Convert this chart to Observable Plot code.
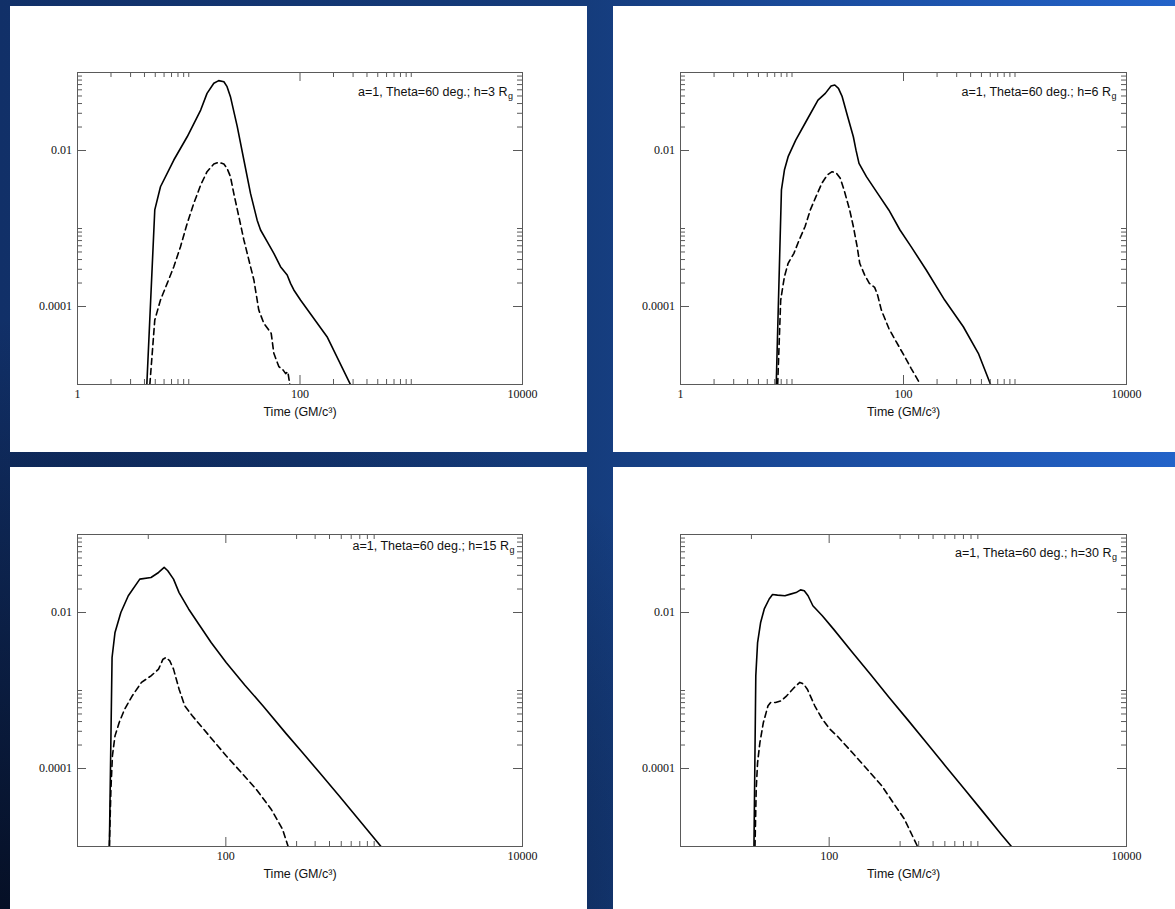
<!DOCTYPE html>
<html>
<head>
<meta charset="utf-8">
<script src="https://cdn.jsdelivr.net/npm/d3@7"></script>
<script src="https://cdn.jsdelivr.net/npm/@observablehq/plot@0.6"></script>
<style>
html, body { margin: 0; padding: 0; }
body {
  width: 1175px; height: 909px; overflow: hidden; position: relative;
  background:
    radial-gradient(ellipse 70% 65% at 0% 100%, rgba(4,10,26,0.85) 0%, rgba(4,10,26,0) 100%),
    linear-gradient(to right, #113068 0%, #153c7c 50%, #1c50a6 75%, #2363c9 100%);
}
.panel { position: absolute; background: #ffffff; }
.panel svg { display: block; overflow: visible; }
</style>
</head>
<body>
<div id="p1" class="panel" style="left:10px;top:6px;width:577px;height:446px"></div>
<div id="p2" class="panel" style="left:613px;top:6px;width:562px;height:446px"></div>
<div id="p3" class="panel" style="left:10px;top:467px;width:577px;height:442px"></div>
<div id="p4" class="panel" style="left:613px;top:467px;width:562px;height:442px"></div>
<script>
// ---------- data (time in GM/c^3, flux) ----------
// h = 3 Rg
const h3SolidT = [4.2, 4.95, 5.57, 7.34, 9.68, 12.8, 14.6, 16.8, 18.6, 20.7, 22.1, 23.7, 27.3, 31.3, 35.9, 41.2, 44.2, 50.7, 58.2, 66.8, 76.7, 82.2, 88, 101, 175, 284];
const h3SolidF = [1e-5, 1.73e-3, 3.43e-3, 7.55e-3, 0.015, 0.033, 0.054, 0.0727, 0.0786, 0.0762, 0.0658, 0.049, 0.0202, 0.00755, 2.82e-3, 1.28e-3, 9.57e-4, 6.78e-4, 4.8e-4, 3.24e-4, 2.54e-4, 1.98e-4, 1.63e-4, 1.21e-4, 4.1e-5, 1e-5];
const h3DashT = [4.47, 4.95, 5.57, 6.4, 7.34, 8.43, 9.68, 11.1, 12.8, 14.6, 16.8, 18.6, 20.7, 22.1, 23.7, 25.4, 28.2, 31.3, 34.7, 38.5, 42.6, 47.3, 55.1, 58.2, 64.5, 70.6, 74.3, 77.7, 81];
const h3DashF = [1e-5, 6.7e-5, 1.21e-4, 1.98e-4, 3.24e-4, 5.85e-4, 1.16e-3, 2.1e-3, 3.61e-3, 5.35e-3, 6.7e-3, 7.06e-3, 6.7e-3, 5.91e-3, 4.62e-3, 2.82e-3, 1.42e-3, 7.13e-4, 3.95e-4, 2.19e-4, 9.0e-5, 6.1e-5, 4.53e-5, 2.51e-5, 1.7e-5, 1.53e-5, 1.38e-5, 1.46e-5, 1e-5];
// h = 6 Rg
const h6SolidT = [7.22, 8.04, 8.55, 9.23, 10.8, 13.6, 17.1, 19.9, 22.4, 24.2, 26.1, 28.2, 31.6, 35.5, 37.5, 39.9, 46.5, 58.6, 73.8, 93, 117, 160, 234, 344, 469, 604];
const h6SolidF = [1e-5, 3.12e-3, 5.62e-3, 8.33e-3, 0.0136, 0.0246, 0.0443, 0.054, 0.0671, 0.0691, 0.0627, 0.049, 0.0271, 0.015, 0.0101, 6.85e-3, 4.62e-3, 2.82e-3, 1.73e-3, 9.57e-4, 5.85e-4, 2.94e-4, 1.21e-4, 5.5e-5, 2.51e-5, 1e-5];
const h6DashT = [7.44, 7.92, 8.55, 9.23, 10.4, 11.6, 13.1, 14.6, 16.4, 18.5, 20.7, 22.9, 25.1, 27.1, 29.3, 32.9, 35.5, 38.4, 40.5, 44.8, 49.4, 55.1, 58.6, 63.3, 73.8, 86, 100.5, 117, 142];
const h6DashF = [1e-5, 1.21e-4, 2.41e-4, 3.58e-4, 4.8e-4, 7.13e-4, 1.06e-3, 1.73e-3, 2.56e-3, 3.79e-3, 4.85e-3, 5.35e-3, 5.1e-3, 4.4e-3, 3.12e-3, 1.73e-3, 1.06e-3, 5.85e-4, 3.58e-4, 2.54e-4, 1.98e-4, 1.76e-4, 1.4e-4, 9.0e-5, 5.26e-5, 3.54e-5, 2.39e-5, 1.61e-5, 1e-5];
// h = 15 Rg
const h15SolidT = [16.4, 17.1, 17.9, 19.6, 22.0, 26.3, 31.3, 35.2, 38.4, 40.6, 44.4, 48.4, 56.1, 66.8, 79.6, 100.5, 134.5, 180, 255, 323, 432, 578, 774, 1112];
const h15SolidF = [1e-5, 2.65e-3, 5.55e-3, 0.01, 0.0164, 0.0268, 0.0281, 0.0326, 0.0378, 0.0343, 0.0268, 0.018, 0.0111, 6.75e-3, 4.12e-3, 2.29e-3, 1.17e-3, 6.2e-4, 2.8e-4, 1.66e-4, 8.7e-5, 4.5e-5, 2.3e-5, 1e-5];
const h15DashT = [16.4, 16.8, 17.2, 17.9, 19.1, 20.8, 23.4, 27.0, 31.3, 35.2, 37.7, 39.5, 41.9, 44.4, 48.4, 52.8, 59.4, 70.8, 84.4, 100.5, 127, 160, 202, 241, 263];
const h15DashF = [1e-5, 5.44e-5, 1.46e-4, 2.62e-4, 3.89e-4, 5.78e-4, 8.55e-4, 1.27e-3, 1.54e-3, 1.88e-3, 2.52e-3, 2.65e-3, 2.4e-3, 1.88e-3, 1.04e-3, 6.37e-4, 4.74e-4, 3.2e-4, 2.15e-4, 1.46e-4, 8.9e-5, 5.44e-5, 3.01e-5, 1.67e-5, 1e-5];
// h = 30 Rg
const h30SolidT = [31.2, 32.1, 33.0, 34.6, 36.6, 39.5, 41.6, 44.9, 50.4, 54.9, 59.9, 64.2, 68.0, 72.1, 77.7, 89.9, 107, 143, 190, 254, 339, 453, 605, 809, 1080, 1439, 1683];
const h30SolidF = [1e-5, 1.54e-3, 4.12e-3, 7.45e-3, 0.0111, 0.0149, 0.017, 0.0167, 0.0164, 0.0172, 0.018, 0.0195, 0.019, 0.0164, 0.0122, 9.07e-3, 6.12e-3, 3.1e-3, 1.6e-3, 8.1e-4, 4.17e-4, 2.12e-4, 1.08e-4, 5.5e-5, 2.8e-5, 1.43e-5, 1e-5];
const h30DashT = [31.7, 32.3, 33.0, 34.2, 36.1, 38.8, 40.4, 43.6, 47.6, 51.8, 58.2, 63.5, 67.3, 71.3, 80.0, 89.9, 101, 113, 143, 180, 226, 269, 321, 393];
const h30DashF = [1e-5, 5.44e-5, 1.19e-4, 2.15e-4, 3.89e-4, 6.37e-4, 7.01e-4, 7.01e-4, 7.38e-4, 8.55e-4, 1.09e-3, 1.27e-3, 1.21e-3, 1.04e-3, 6.37e-4, 4.3e-4, 3.2e-4, 2.62e-4, 1.6e-4, 9.8e-5, 6.0e-5, 3.66e-5, 2.24e-5, 1e-5];

// ---------- axes ----------
const xDomainWide = [1, 10000];
const xDomainNarrow = [10, 10000];
const yDomain = [1e-5, 0.1];
const xLabelsWide = [1, 100, 10000];
const xLabelsNarrow = [100, 10000];
const xMinorWide = [2, 3, 4, 5, 6, 7, 8, 9, 10, 200, 300, 400, 500, 600, 700, 800, 900, 1000];
const xMinorWideTop = xMinorWide;
const xMinorNarrow = [300, 400, 500, 600, 700, 800, 900, 1000];
const xMinorNarrowTop = [30, 300, 400, 500, 600, 700, 800, 900, 1000];
const yLabels = [0.0001, 0.01];
const yMinor = [0.0002, 0.0003, 0.0004, 0.0005, 0.0006, 0.0007, 0.0008, 0.0009, 0.001, 0.02, 0.03, 0.04, 0.05, 0.06, 0.07, 0.08, 0.09];
const xTitle = "Time (GM/c³)";
const notes = ["a=1, Theta=60 deg.; h=3 R", "a=1, Theta=60 deg.; h=6 R", "a=1, Theta=60 deg.; h=15 R", "a=1, Theta=60 deg.; h=30 R"];
const noteSub = "g";

const SANS = "'Liberation Sans', Arial, Helvetica, sans-serif";
const SERIF = "'Liberation Serif', 'Times New Roman', serif";
const AXIS = "#5a5a5a";
const MAJ = 9, MIN = 5;

function drawPanel(id, cfg) {
  const el = document.getElementById(id);
  const W = el.clientWidth, H = el.clientHeight;
  const fw = W - cfg.ml - cfg.mr, fh = H - cfg.mt - cfg.mb;
  const solid = cfg.solidT.map((t, i) => ({t, f: cfg.solidF[i]}));
  const dashed = cfg.dashT.map((t, i) => ({t, f: cfg.dashF[i]}));
  const id1 = d => d;
  const chart = Plot.plot({
    width: W, height: H,
    marginLeft: cfg.ml, marginRight: cfg.mr, marginTop: cfg.mt, marginBottom: cfg.mb,
    x: {type: "log", domain: cfg.xDomain},
    y: {type: "log", domain: yDomain},
    style: {background: "transparent", overflow: "visible"},
    marks: [
      Plot.line(solid, {x: "t", y: "f", stroke: "#000", strokeWidth: 1.6, clip: true}),
      Plot.line(dashed, {x: "t", y: "f", stroke: "#000", strokeWidth: 1.6, strokeDasharray: "6,4", clip: true}),
      Plot.tickX(cfg.xLabels, {x: id1, insetTop: fh - MAJ, stroke: AXIS}),
      Plot.tickX(cfg.xLabels, {x: id1, insetBottom: fh - MAJ, stroke: AXIS}),
      Plot.tickX(cfg.xMinor, {x: id1, insetTop: fh - MIN, stroke: AXIS}),
      Plot.tickX(cfg.xMinorTop, {x: id1, insetBottom: fh - MIN, stroke: AXIS}),
      Plot.tickY(yLabels, {y: id1, insetRight: fw - MAJ, stroke: AXIS}),
      Plot.tickY(yLabels, {y: id1, insetLeft: fw - MAJ, stroke: AXIS}),
      Plot.tickY(yMinor, {y: id1, insetRight: fw - MIN, stroke: AXIS}),
      Plot.tickY(yMinor, {y: id1, insetLeft: fw - MIN, stroke: AXIS}),
      Plot.frame({stroke: AXIS, strokeWidth: 1}),
      Plot.axisX(cfg.xLabels, {anchor: "bottom", tickSize: 0, tickPadding: 4.5, tickFormat: d => String(d), fontFamily: SERIF, fontSize: 12, fill: "#111", label: null}),
      Plot.axisY(yLabels, {anchor: "left", tickSize: 0, tickPadding: 5.5, tickFormat: d => String(d), fontFamily: SERIF, fontSize: 12, fill: "#111", label: null}),
      Plot.text([xTitle], {text: id1, frameAnchor: "bottom", dy: 27, lineAnchor: "middle", fontFamily: SANS, fontSize: 12.5, fill: "#111"}),
      Plot.text([cfg.note], {text: id1, frameAnchor: "top-right", textAnchor: "end", lineAnchor: "middle", dx: -cfg.noteDx, dy: cfg.noteDy, fontFamily: SANS, fontSize: 12.5, fill: "#111"}),
      Plot.text([noteSub], {text: id1, frameAnchor: "top-right", textAnchor: "end", lineAnchor: "middle", dx: -cfg.noteDx + 5.5, dy: cfg.noteDy + 5, fontFamily: SANS, fontSize: 9, fill: "#111"})
    ]
  });
  el.appendChild(chart);
}

drawPanel("p1", {ml: 67, mr: 65, mt: 66, mb: 68, xDomain: xDomainWide, xLabels: xLabelsWide, xMinor: xMinorWide, xMinorTop: xMinorWideTop,
  solidT: h3SolidT, solidF: h3SolidF, dashT: h3DashT, dashF: h3DashF, note: notes[0], noteDx: 15, noteDy: 19});
drawPanel("p2", {ml: 67, mr: 49, mt: 66, mb: 68, xDomain: xDomainWide, xLabels: xLabelsWide, xMinor: xMinorWide, xMinorTop: xMinorWideTop,
  solidT: h6SolidT, solidF: h6SolidF, dashT: h6DashT, dashF: h6DashF, note: notes[1], noteDx: 15.5, noteDy: 19});
drawPanel("p3", {ml: 67, mr: 65, mt: 67, mb: 63, xDomain: xDomainNarrow, xLabels: xLabelsNarrow, xMinor: xMinorNarrow, xMinorTop: xMinorNarrowTop,
  solidT: h15SolidT, solidF: h15SolidF, dashT: h15DashT, dashF: h15DashF, note: notes[2], noteDx: 13.5, noteDy: 11});
drawPanel("p4", {ml: 67, mr: 49, mt: 67, mb: 63, xDomain: xDomainNarrow, xLabels: xLabelsNarrow, xMinor: xMinorNarrow, xMinorTop: xMinorNarrowTop,
  solidT: h30SolidT, solidF: h30SolidF, dashT: h30DashT, dashF: h30DashF, note: notes[3], noteDx: 15, noteDy: 18});
</script>
</body>
</html>
